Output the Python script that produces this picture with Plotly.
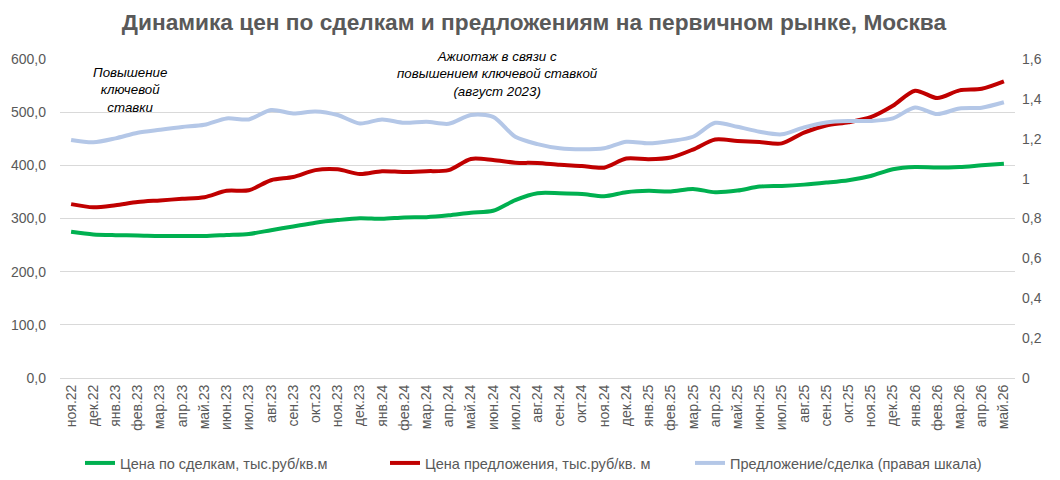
import plotly.graph_objects as go

# monthly categories, Nov 2022 - May 2026
months = ['ноя.22', 'дек.22',
          'янв.23', 'фев.23', 'мар.23', 'апр.23', 'май.23', 'июн.23',
          'июл.23', 'авг.23', 'сен.23', 'окт.23', 'ноя.23', 'дек.23',
          'янв.24', 'фев.24', 'мар.24', 'апр.24', 'май.24', 'июн.24',
          'июл.24', 'авг.24', 'сен.24', 'окт.24', 'ноя.24', 'дек.24',
          'янв.25', 'фев.25', 'мар.25', 'апр.25', 'май.25', 'июн.25',
          'июл.25', 'авг.25', 'сен.25', 'окт.25', 'ноя.25', 'дек.25',
          'янв.26', 'фев.26', 'мар.26', 'апр.26', 'май.26']

# deal price, th. rub per sq.m
deal_price = [275, 270, 268.6, 268, 267, 267, 267, 269, 271, 278,
              285, 292, 297, 300.6, 299.4, 302, 302.5, 306, 311, 314.5,
              334.6, 347.5, 347.5, 346, 341.8, 349.4, 352, 351, 355.7, 349.4,
              352.5, 360, 361.2, 363.7, 367.5, 372, 380, 392.7, 397, 396,
              397, 400, 402.8]

# offer price, th. rub per sq.m
offer_price = [327, 321, 325, 331, 334, 337, 340, 352, 353, 372,
               378, 391, 392.5, 383.6, 389, 387.4, 389, 391, 412, 410,
               405, 404.4, 401, 398.7, 395.6, 412.7, 411.4, 414.6, 429.7, 448.7,
               446, 443.7, 441.3, 461.5, 474.8, 481, 490.5, 512, 540.4, 526.5,
               541, 544, 558]

# offer / deal ratio (right axis)
ratio = [1.194, 1.182, 1.202, 1.230, 1.245, 1.259, 1.270, 1.302, 1.297, 1.344,
         1.327, 1.337, 1.319, 1.277, 1.297, 1.280, 1.285, 1.275, 1.319, 1.310,
         1.210, 1.173, 1.152, 1.147, 1.152, 1.185, 1.177, 1.189, 1.210, 1.280,
         1.260, 1.235, 1.222, 1.257, 1.282, 1.289, 1.289, 1.302, 1.357, 1.324,
         1.352, 1.356, 1.383]

gray = '#595959'
grid = '#d9d9d9'
font = 'Liberation Sans'

fig = go.Figure()
fig.add_trace(go.Scatter(x=months, y=deal_price, mode='lines',
                         name='Цена по сделкам, тыс.руб/кв.м',
                         line=dict(color='#00b050', width=4, shape='spline', smoothing=0.8)))
fig.add_trace(go.Scatter(x=months, y=offer_price, mode='lines',
                         name='Цена предложения, тыс.руб/кв. м',
                         line=dict(color='#c00000', width=4, shape='spline', smoothing=0.8)))
fig.add_trace(go.Scatter(x=months, y=ratio, mode='lines', yaxis='y2',
                         name='Предложение/сделка (правая шкала)',
                         line=dict(color='#b4c7e7', width=4, shape='spline', smoothing=0.8)))

# notes over the chart
fig.add_annotation(x=2.66, y=0.987, xref='x', yref='paper', yanchor='top',
                   text='<i>Повышение<br>ключевой<br>ставки</i>', showarrow=False,
                   font=dict(family=font, size=13.3, color='#000000'))
fig.add_annotation(x=19.2, y=1.038, xref='x', yref='paper', yanchor='top',
                   text='<i>Ажиотаж в связи с<br>повышением ключевой ставкой<br>(август 2023)</i>',
                   showarrow=False,
                   font=dict(family=font, size=13.3, color='#000000'))

# page body adds 8px margin, so the figure is 8px smaller and shifted
fig.update_layout(
    width=1052, height=472,
    margin=dict(l=52, r=45, t=51, b=102),
    paper_bgcolor='white', plot_bgcolor='white',
    separators=', ',
    font=dict(family=font, color=gray, size=13),
    title=dict(text='<b>Динамика цен по сделкам и предложениям на первичном рынке, Москва</b>',
               x=0.5, xanchor='center', y=0.97, yanchor='middle',
               font=dict(family=font, size=22.7, color=gray)),
    xaxis=dict(type='category', categoryorder='array', categoryarray=months,
               range=[-0.5, 42.5], tickangle=-90, showgrid=False,
               showline=True, linecolor=grid, linewidth=1, ticks='',
               automargin=False, tickfont=dict(size=14, color=gray)),
    yaxis=dict(range=[0, 600], dtick=100, tickformat='.1f', showgrid=True,
               gridcolor=grid, gridwidth=1, zeroline=False, ticks='',
               automargin=False, ticklabelstandoff=13,
               tickfont=dict(size=14, color=gray)),
    yaxis2=dict(range=[0, 1.6], dtick=0.2, overlaying='y', side='right',
                showgrid=False, zeroline=False, ticks='',
                automargin=False, ticklabelstandoff=6,
                tickfont=dict(size=14, color=gray)),
    showlegend=True,
    legend=dict(orientation='h', x=0.5, xanchor='center', y=0.036, yanchor='middle',
                yref='container', traceorder='normal',
                entrywidth=260, entrywidthmode='pixels',
                font=dict(family=font, size=14.5, color=gray)),
)

fig.write_html('out.html')
